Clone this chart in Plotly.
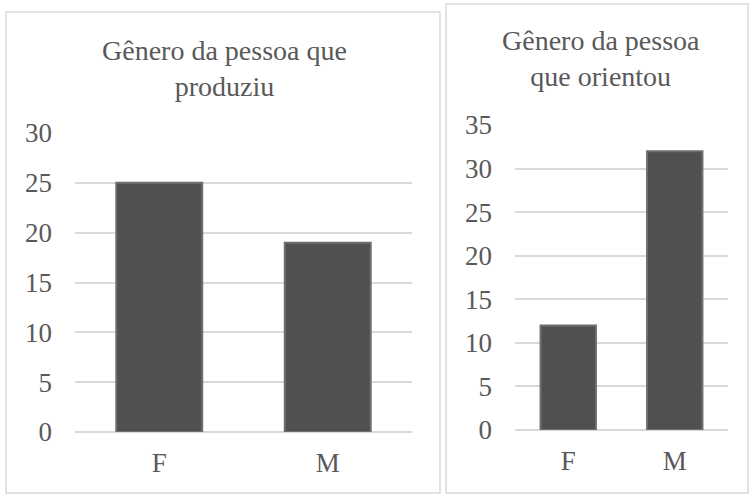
import plotly.graph_objects as go

W, H = 750, 495

# Data
categories = ["F", "M"]
produziu_values = [25, 19]
orientou_values = [12, 32]
title_left = "Gênero da pessoa que<br>produziu"
title_right = "Gênero da pessoa<br>que orientou"
left_ticks = [0, 5, 10, 15, 20, 25, 30]
right_ticks = [0, 5, 10, 15, 20, 25, 30, 35]

FONT = "Liberation Serif"
TXT = "#595959"
GRID = "#d9d9d9"
BAR = "#505050"
BAR_EDGE = "#6e6e6e"


def px_x(p):
    return p / W


def px_y(p):
    return 1 - p / H


fig = go.Figure()
fig.add_trace(go.Bar(x=categories, y=produziu_values, xaxis="x", yaxis="y",
                     marker=dict(color=BAR, line=dict(color=BAR_EDGE, width=2)),
                     width=0.51, hoverinfo="x+y"))
fig.add_trace(go.Bar(x=categories, y=orientou_values, xaxis="x2", yaxis="y2",
                     marker=dict(color=BAR, line=dict(color=BAR_EDGE, width=2)),
                     width=0.52, hoverinfo="x+y"))

tickfont = dict(family=FONT, size=27, color=TXT)

common_x = dict(tickfont=tickfont, showgrid=False, showline=False, ticks="",
                ticklabelstandoff=12, fixedrange=True, automargin=False)
common_y = dict(tickfont=tickfont, showgrid=True, gridcolor=GRID, gridwidth=2,
                zeroline=True, zerolinecolor=GRID, zerolinewidth=2,
                showline=False, ticks="", ticklabelstandoff=22,
                fixedrange=True, automargin=False)

fig.update_layout(
    width=W, height=H,
    margin=dict(l=0, r=0, t=0, b=0, pad=0, autoexpand=False),
    paper_bgcolor="white", plot_bgcolor="white",
    showlegend=False,
    xaxis=dict(domain=[px_x(75), px_x(412)], anchor="y", **common_x),
    yaxis=dict(domain=[px_y(432), px_y(133)], anchor="x", range=[0, 30],
               tickvals=left_ticks, **common_y),
    xaxis2=dict(domain=[px_x(515), px_x(728)], anchor="y2", **common_x),
    yaxis2=dict(domain=[px_y(430), px_y(125)], anchor="x2", range=[0, 35],
                tickvals=right_ticks, **common_y),
)

# Panel borders
fig.add_shape(type="rect", xref="paper", yref="paper",
              x0=px_x(6), x1=px_x(440), y0=px_y(493), y1=px_y(12),
              line=dict(color=GRID, width=1.5), fillcolor="rgba(0,0,0,0)", layer="below")
fig.add_shape(type="rect", xref="paper", yref="paper",
              x0=px_x(446), x1=px_x(748), y0=px_y(493), y1=px_y(4),
              line=dict(color=GRID, width=1.5), fillcolor="rgba(0,0,0,0)", layer="below")

# Titles
fig.add_annotation(text=title_left, xref="paper", yref="paper",
                   x=px_x(224), y=px_y(68), xanchor="center", yanchor="middle",
                   showarrow=False, font=dict(family=FONT, size=28, color=TXT))
fig.add_annotation(text=title_right, xref="paper", yref="paper",
                   x=px_x(601), y=px_y(59), xanchor="center", yanchor="middle",
                   showarrow=False, font=dict(family=FONT, size=28, color=TXT))

fig.write_html("out.html")
